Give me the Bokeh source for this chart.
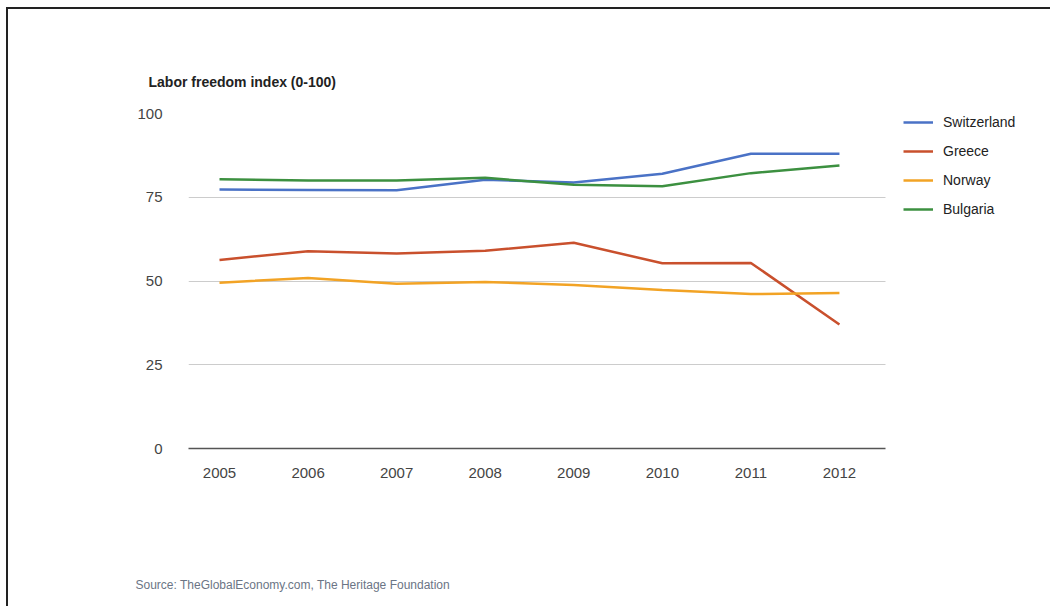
from bokeh.plotting import figure
from bokeh.models import Range1d, FixedTicker, Legend, LegendItem, Title, Grid
from bokeh.embed import file_html
from bokeh.resources import INLINE

years = [2005, 2006, 2007, 2008, 2009, 2010, 2011, 2012]
switzerland = [77.3, 77.2, 77.1, 80.2, 79.4, 82.0, 88.0, 88.0]
greece = [56.3, 58.9, 58.2, 59.0, 61.4, 55.3, 55.4, 37.0]
norway = [49.5, 50.9, 49.2, 49.7, 48.8, 47.3, 46.1, 46.4]
bulgaria = [80.4, 80.0, 80.0, 80.8, 78.7, 78.3, 82.2, 84.5]
series_names = ["Switzerland", "Greece", "Norway", "Bulgaria"]
series_colors = ["#4a72c6", "#c9502d", "#f2a325", "#3c9040"]
y_ticks = [0, 25, 50, 75, 100]
title_text = "Labor freedom index (0-100)"
source_text = "Source: TheGlobalEconomy.com, The Heritage Foundation"

FONT = "Liberation Sans"

X0, X1 = 2004.65, 2012.52        # visible axis span
AXIS_PX = 697                     # pixel width of that span
px_per_year = AXIS_PX / (X1 - X0)

wide = "cross_bounds" in Grid.properties()

if wide:
    FW = 852
    x_end = X0 + FW / px_per_year
    right_border = 1044 - 180 - FW
else:
    FW = AXIS_PX
    x_end = X1
    right_border = 167

p = figure(frame_width=FW, frame_height=335,
           output_backend="svg", toolbar_location=None,
           x_range=Range1d(X0, x_end), y_range=Range1d(0, 100),
           min_border_left=180, min_border_right=right_border,
           min_border_top=104, min_border_bottom=160)
p.margin = (9, 0, 0, 8)
p.styles = {"box-shadow": "-2px -2px 0px #222222"}
p.outline_line_color = None
p.background_fill_color = "white"
p.border_fill_color = "white"

p.title.text = title_text
p.title.align = "left"
p.title.offset = -40
p.title.standoff = 48
p.title.text_font = FONT
p.title.text_font_size = "14px"
p.title.text_font_style = "bold"
p.title.text_color = "#222222"

p.xaxis.ticker = FixedTicker(ticks=years)
p.yaxis.ticker = FixedTicker(ticks=y_ticks)
for ax in (p.xaxis, p.yaxis):
    ax.major_tick_line_color = None
    ax.minor_tick_line_color = None
    ax.major_label_text_font = FONT
    ax.major_label_text_font_size = "15px"
    ax.major_label_text_color = "#444444"
p.yaxis.axis_line_color = None
p.xaxis.axis_line_color = "#555555"
p.xaxis.axis_line_width = 1.5
p.xaxis.major_label_standoff = 13
p.yaxis.major_label_standoff = 20
p.xaxis.bounds = (X0, X1)
# spacer between the year labels and the source note
p.xaxis.axis_label = " "
p.xaxis.axis_label_standoff = 88
p.xaxis.axis_label_text_font_size = "2px"

p.xgrid.grid_line_color = None
p.ygrid.grid_line_color = "#cccccc"
p.ygrid.grid_line_width = 1
if wide:
    p.ygrid.cross_bounds = (X0, X1)

data = [switzerland, greece, norway, bulgaria]
renderers = []
for vals, col in zip(data, series_colors):
    r = p.line(years, vals, line_color=col, line_width=2.5)
    renderers.append(r)

legend = Legend(items=[LegendItem(label=n, renderers=[r])
                       for n, r in zip(series_names, renderers)],
                orientation="vertical")
legend.padding = 0
legend.margin = 0
legend.spacing = 9
legend.glyph_width = 30
legend.glyph_height = 20
legend.label_height = 20
legend.label_standoff = 10
legend.label_text_font = FONT
legend.label_text_font_size = "14px"
legend.label_text_color = "#222222"
legend.border_line_color = None
legend.background_fill_alpha = 0
if wide:
    legend.location = (715, 229)
    p.add_layout(legend, "center")
else:
    legend.location = (18, 230)
    p.add_layout(legend, "right")

src = Title(text=source_text, align="left", offset=-53, standoff=4,
            text_font=FONT, text_font_size="12px", text_font_style="normal",
            text_color="#6b7585")
p.add_layout(src, "below")

open("out.html", "w").write(file_html(p, INLINE))
